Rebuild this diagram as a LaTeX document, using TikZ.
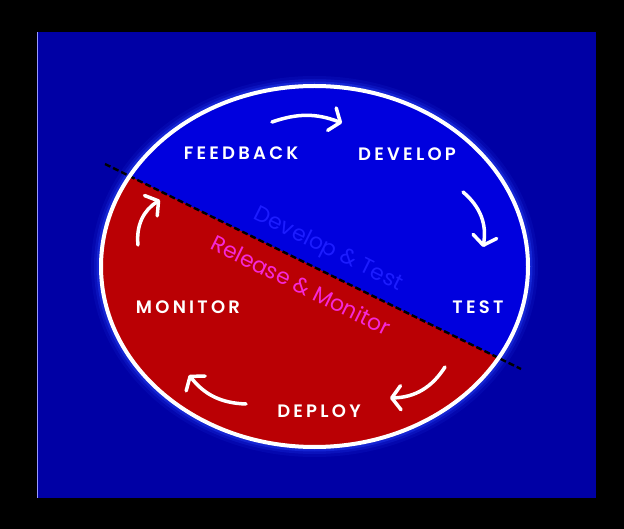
\documentclass[tikz,border=0pt]{standalone}
\usepackage{fontspec}
\usepackage{tikz}
\usetikzlibrary{arrows.meta}
\newfontfamily\stagefont{Poppins}[UprightFont=* SemiBold,LetterSpace=18]
\newfontfamily\bandfont{Poppins}
\definecolor{navybg}{RGB}{0,0,165}
\definecolor{loopblue}{RGB}{0,0,222}
\definecolor{loopred}{RGB}{186,0,4}
\definecolor{glowblue}{RGB}{40,70,255}
\definecolor{bandblue}{RGB}{28,28,255}
\definecolor{bandpink}{RGB}{245,40,215}
\tikzset{
  stage/.style={text=white,inner sep=0pt,font=\stagefont\fontsize{18}{18}\selectfont},
  band/.style={inner sep=0pt,rotate=-26.3,font=\bandfont\fontsize{22}{22}\selectfont},
  cyclearrow/.style={white,line width=3.5pt,line cap=round,
    -{Straight Barb[length=9pt,width=24pt,round]}}
}
\begin{document}
\begin{tikzpicture}[x=1pt,y=-1pt]
    \useasboundingbox (0,0) rectangle (624,529);
    \fill[black] (0,0) rectangle (624,529);
    \fill[navybg] (37,32) rectangle (596,498);
    \draw[blue!40!white,line width=0.8pt] (37,32) -- (37,498);
    \coordinate (c) at (314.5,266.5);
    % glow round the ring
    \foreach \w/\o in {20/0.10,14/0.18,9/0.35}
        \draw[glowblue,opacity=\o,line width=\w pt] (c) ellipse [x radius=213.5pt,y radius=180.5pt];
    \fill[loopblue] (c) ellipse [x radius=213.5pt,y radius=180.5pt];
    \begin{scope}
        \clip (c) ellipse [x radius=213.5pt,y radius=180.5pt];
        \fill[loopred] (0,112.3) -- (624,419.8) -- (624,529) -- (0,529) -- cycle;
    \end{scope}
    % split line
    \coordinate (cutA) at (105,164);
    \coordinate (cutB) at (521,369);
    \draw[black,line width=2.4pt,dash pattern=on 6pt off 3pt] (cutA) -- (cutB);
    \draw[white,line width=4pt] (c) ellipse [x radius=213.5pt,y radius=180.5pt];
    % stages
    \node[stage] (feedback) at (241,153) {FEEDBACK};
    \node[stage] (develop) at (407,154) {DEVELOP};
    \node[stage] (test) at (478,307) {TEST};
    \node[stage] (monitor) at (188,307) {MONITOR};
    \node[stage] (deploy) at (319,411) {DEPLOY};
    \node[band,text=bandblue] (devtest) at (328,250) {Develop \& Test};
    \node[band,text=bandpink] (relmon) at (301,285) {Release \& Monitor};
    % arrows between stages
    \coordinate (a1) at (272,122);
    \coordinate (b1) at (342,123);
    \coordinate (a2) at (463,192);
    \coordinate (b2) at (483,247);
    \coordinate (a3) at (445,367);
    \coordinate (b3) at (390,398);
    \coordinate (a4) at (246,404);
    \coordinate (b4) at (189,375);
    \coordinate (a5) at (138,245);
    \coordinate (b5) at (160,200);
    \draw[cyclearrow] (a1) to[bend left=20] (b1);
    \draw[cyclearrow] (a2) to[bend left=30] (b2);
    \draw[cyclearrow] (a3) to[bend left=28] (b3);
    \draw[cyclearrow] (a4) to[bend left=25] (b4);
    \draw[cyclearrow] (a5) to[bend left=32] (b5);
\end{tikzpicture}
\end{document}
